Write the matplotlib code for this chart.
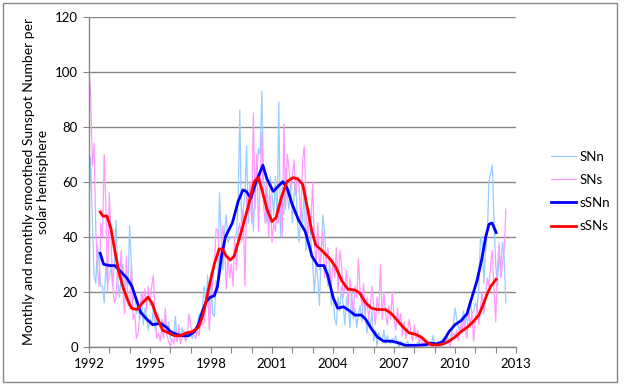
import matplotlib
matplotlib.use("Agg")
import matplotlib.pyplot as plt
import numpy as np
from matplotlib.patches import Rectangle

plt.rcParams['font.family'] = ['Lato', 'DejaVu Sans']

# monthly values, starting January 1992
sn_north = [
    51, 69, 45, 26, 23, 37, 30, 22, 22, 16, 30, 23,   # 1992
    25, 29, 22, 30, 46, 24, 18, 26, 30, 20, 24, 22,   # 1993
    44, 30, 17, 20, 12, 15, 10, 18, 8, 14, 11, 6,     # 1994
    10, 8, 14, 6, 9, 12, 7, 10, 8, 11, 5, 9,          # 1995
    3, 6, 4, 11, 2, 5, 3, 7, 4, 2, 5, 4,              # 1996
    4, 3, 6, 5, 8, 12, 7, 14, 22, 15, 26, 12,         # 1997
    27, 12, 11, 24, 20, 56, 40, 28, 42, 48, 38, 39,   # 1998
    40, 40, 39, 41, 52, 86, 45, 50, 55, 73, 45, 55,   # 1999
    58, 42, 60, 62, 72, 70, 93, 60, 58, 45, 50, 62,   # 2000
    55, 48, 62, 45, 89, 40, 58, 48, 65, 55, 50, 60,   # 2001
    45, 55, 62, 45, 38, 50, 45, 58, 35, 42, 48, 38,   # 2002
    30, 20, 30, 25, 15, 35, 48, 42, 30, 22, 30, 15,   # 2003
    20, 10, 8, 18, 13, 22, 15, 8, 18, 14, 7, 20,      # 2004
    10, 14, 7, 12, 15, 9, 18, 12, 5, 10, 7, 13,       # 2005
    2, 6, 0, 5, 3, 2, 6, 1, 4, 2, 1, 3,               # 2006
    2, 4, 1, 0, 2, 1, 0, 1, 2, 0, 1, 0,               # 2007
    1, 0, 2, 0, 1, 0, 1, 0, 2, 1, 0, 4,               # 2008
    1, 0, 2, 0, 1, 3, 2, 4, 3, 2, 5, 8,               # 2009
    14, 10, 7, 5, 9, 13, 8, 11, 12, 16, 12, 13,       # 2010
    16, 14, 21, 40, 38, 23, 35, 40, 60, 63, 66, 45,   # 2011
    30, 22, 34, 28, 38, 32, 16,                       # 2012
]
sn_south = [
    100, 92, 66, 74, 43, 28, 22, 45, 40, 70, 50, 20,  # 1992
    56, 40, 22, 16, 18, 30, 25, 35, 20, 12, 33, 15,   # 1993
    15, 30, 10, 12, 3, 5, 12, 20, 16, 21, 13, 22,     # 1994
    15, 22, 26, 10, 3, 5, 2, 7, 3, 14, 4, 2,          # 1995
    0, 3, 1, 6, 2, 8, 1, 3, 6, 2, 4, 12,              # 1996
    8, 5, 4, 3, 6, 4, 10, 8, 9, 15, 20, 6,            # 1997
    15, 24, 30, 43, 42, 30, 35, 44, 38, 21, 33, 25,   # 1998
    30, 22, 40, 28, 42, 45, 38, 50, 22, 55, 48, 60,   # 1999
    45, 85, 50, 70, 42, 60, 78, 52, 45, 60, 40, 55,   # 2000
    38, 45, 42, 50, 45, 55, 40, 81, 50, 70, 65, 58,   # 2001
    62, 68, 55, 62, 58, 45, 67, 73, 55, 38, 50, 45,   # 2002
    60, 38, 30, 45, 28, 35, 42, 25, 30, 36, 28, 22,   # 2003
    32, 25, 36, 20, 35, 30, 18, 22, 28, 15, 25, 18,   # 2004
    12, 22, 18, 32, 20, 15, 23, 12, 18, 10, 15, 22,   # 2005
    14, 8, 18, 12, 30, 10, 20, 12, 8, 15, 10, 20,     # 2006
    10, 6, 14, 8, 12, 4, 9, 3, 6, 10, 5, 2,           # 2007
    8, 3, 6, 1, 4, 0, 2, 1, 0, 2, 1, 0,               # 2008
    1, 0, 2, 1, 0, 2, 1, 3, 2, 0, 3, 5,               # 2009
    4, 6, 2, 8, 5, 10, 6, 3, 14, 7, 12, 2,            # 2010
    10, 15, 8, 14, 20, 12, 18, 25, 22, 30, 35, 20,    # 2011
    9, 28, 38, 25, 30, 35, 50,                        # 2012
]

# smoothed series, read as (decimal year, value)
ssn_north_t = [1992.55, 1992.72, 1993.0, 1993.27, 1993.47, 1993.86, 1994.11, 1994.29,
               1994.54, 1994.84, 1995.13, 1995.52, 1995.82, 1996.0, 1996.3, 1996.6,
               1996.9, 1997.19, 1997.38, 1997.58, 1997.77, 1997.97, 1998.16, 1998.32,
               1998.52, 1998.71, 1999.05, 1999.34, 1999.57, 1999.73, 1999.96, 2000.22,
               2000.55, 2000.75, 2001.06, 2001.26, 2001.53, 2001.73, 2001.98, 2002.31,
               2002.63, 2002.82, 2002.96, 2003.25, 2003.55, 2003.74, 2004.0, 2004.23,
               2004.52, 2004.82, 2005.07, 2005.4, 2005.6, 2005.89, 2006.19, 2006.48,
               2006.87, 2007.17, 2007.56, 2008.14, 2008.54, 2008.83, 2009.12, 2009.42,
               2009.71, 2010.0, 2010.3, 2010.59, 2010.79, 2011.08, 2011.32, 2011.51,
               2011.67, 2011.82, 2011.94, 2012.02]
ssn_north = [34, 30, 29.5, 29.5, 28, 25, 22, 18,
             12.5, 10, 8, 8.5, 7, 5.5, 4.5, 4,
             4, 5.5, 8, 13, 16.5, 18, 18.5, 22,
             33, 40, 45, 53, 57, 56.5, 54, 60,
             66, 61, 56.5, 58, 60, 58, 52, 46,
             42, 37, 33, 29.5, 29.5, 26, 18, 14,
             14.5, 13, 11.5, 11.5, 10, 6.5, 3.5, 2,
             2, 1.5, 0.5, 0.5, 0.7, 1.3, 1, 2,
             5.5, 8, 9.5, 12, 17, 24, 32, 40,
             44.5, 45, 43, 41.5]

ssn_south_t = [1992.55, 1992.68, 1992.88, 1993.08, 1993.27, 1993.47, 1993.7, 1993.9,
               1994.09, 1994.35, 1994.64, 1994.9, 1995.09, 1995.33, 1995.62, 1995.91,
               1996.21, 1996.5, 1996.79, 1997.09, 1997.38, 1997.58, 1997.77, 1997.97,
               1998.16, 1998.4, 1998.56, 1998.75, 1998.95, 1999.14, 1999.34, 1999.57,
               1999.83, 2000.12, 2000.32, 2000.51, 2000.75, 2001.0, 2001.2, 2001.45,
               2001.73, 2002.04, 2002.27, 2002.51, 2002.7, 2002.96, 2003.15, 2003.45,
               2003.84, 2004.13, 2004.43, 2004.72, 2005.11, 2005.31, 2005.6, 2005.89,
               2006.19, 2006.58, 2006.87, 2007.17, 2007.46, 2007.75, 2008.05, 2008.34,
               2008.63, 2008.83, 2009.12, 2009.42, 2009.71, 2010.0, 2010.3, 2010.59,
               2010.88, 2011.17, 2011.37, 2011.57, 2011.76, 2012.02]
ssn_south = [49, 47.5, 47.5, 43, 35, 27, 21, 17,
             14, 13.5, 16, 18, 16, 11, 6, 5,
             4, 4, 5, 5.5, 7, 11, 17, 24,
             30, 35.5, 35.5, 33, 31.5, 33, 38, 44,
             51, 60, 61.5, 57, 50, 45.5, 47, 54,
             60, 61.5, 61, 59, 52, 42, 37, 35,
             32, 29, 24, 21, 20.5, 19.5, 16, 14,
             13.5, 13.5, 12, 9.5, 7, 5, 4.5, 3.5,
             1.5, 0.7, 0.6, 1, 2, 3.5, 5.5, 7,
             9, 11.5, 15, 19, 22, 24.5]

year_ticks = np.arange(1992, 2014, 1)
year_labels = [str(y) if (y - 1992) % 3 == 0 else '' for y in year_ticks]

t_month = 1992 + np.arange(len(sn_north)) / 12.0

fig = plt.figure(figsize=(6.24, 3.85), dpi=100)
ax = fig.add_axes([0.1426, 0.0995, 0.6844, 0.857])

grey = '#868686'
ax.plot(t_month, sn_north, color='#99CCFF', lw=0.9, label='SNn')
ax.plot(t_month, sn_south, color='#FF99FF', lw=0.9, label='SNs')
ax.plot(ssn_north_t, ssn_north, color='#0000FF', lw=2.0, label='sSNn', solid_joinstyle='round')
ax.plot(ssn_south_t, ssn_south, color='#FF0000', lw=2.0, label='sSNs', solid_joinstyle='round')

ax.set_xlim(1992, 2013)
ax.set_ylim(0, 120)
ax.set_yticks(np.arange(0, 121, 20))
ax.set_xticks(year_ticks)
ax.set_xticklabels(year_labels)
ax.yaxis.grid(True, color=grey, lw=1.0)
ax.set_axisbelow(True)
for s in ['top', 'right']:
    ax.spines[s].set_visible(False)
for s in ['left', 'bottom']:
    ax.spines[s].set_color(grey)
    ax.spines[s].set_linewidth(1.0)
ax.tick_params(axis='both', direction='out', length=4, color=grey, labelsize=9.5, pad=4)
ax.set_ylabel('Monthly and monthly smoothed Sunspot Number per\nsolar hemisphere',
              fontsize=10, labelpad=4, linespacing=1.25)

ax.legend(loc='center left', bbox_to_anchor=(0.883, 0.503), bbox_transform=fig.transFigure,
          frameon=False, fontsize=9.5, handlelength=1.9, handletextpad=0.3,
          labelspacing=0.85, borderpad=0, borderaxespad=0)

fig.patches.append(Rectangle((3 / 624, 3 / 385), 614 / 624, 379 / 385, transform=fig.transFigure,
                             fill=False, edgecolor=grey, lw=1.0))

fig.savefig('out.png', dpi=100)
